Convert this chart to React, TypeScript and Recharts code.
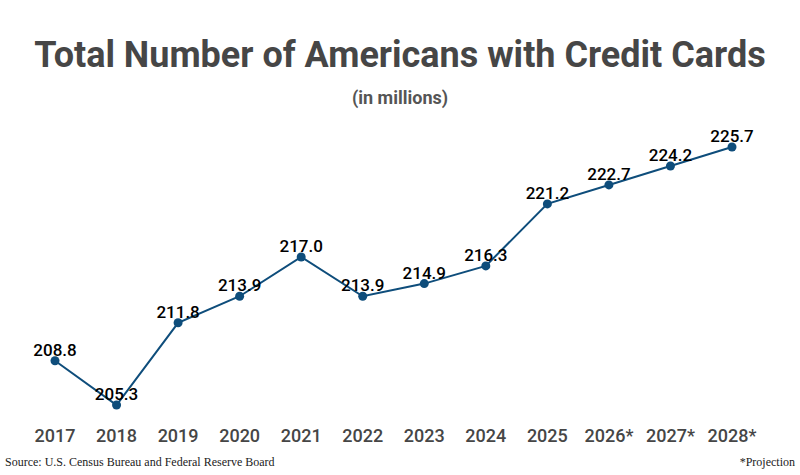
import React from 'react';
import { LineChart, Line, XAxis, YAxis, LabelList } from 'recharts';

// Categories and values (millions of Americans holding credit cards)
const years = ['2017', '2018', '2019', '2020', '2021', '2022', '2023', '2024', '2025', '2026*', '2027*', '2028*'];
const holders = [208.8, 205.3, 211.8, 213.9, 217.0, 213.9, 214.9, 216.3, 221.2, 222.7, 224.2, 225.7];

const data = years.map((year, i) => ({ year, value: holders[i] }));

const FONT = 'Roboto, "Noto Sans", sans-serif';
const LINE_COLOR = '#0e4d7b';

export default function App() {
  return (
    <div style={{ position: 'absolute', left: 0, top: 0, width: 800, height: 475, background: '#fff', fontFamily: FONT }}>
      <div
        style={{
          position: 'absolute', left: 0, top: 30, width: 800, textAlign: 'center',
          fontSize: 36, fontWeight: 700, color: '#464646', lineHeight: '50px',
        }}
      >
        Total Number of Americans with Credit Cards
      </div>
      <div
        style={{
          position: 'absolute', left: 0, top: 86, width: 800, textAlign: 'center',
          fontSize: 18, fontWeight: 700, color: '#555', lineHeight: '24px',
        }}
      >
        (in millions)
      </div>
      <div style={{ position: 'absolute', left: 0, top: 0 }}>
        <LineChart width={800} height={475} data={data} margin={{ top: 147, right: 68, bottom: 30, left: 55 }}>
          <XAxis
            dataKey="year"
            axisLine={false}
            tickLine={false}
            height={40}
            tickMargin={18}
            interval={0}
            tick={{ fill: '#464646', fontSize: 18, fontWeight: 500, fontFamily: FONT }}
          />
          <YAxis hide domain={[205.3, 225.7]} />
          <Line
            type="linear"
            dataKey="value"
            stroke={LINE_COLOR}
            strokeWidth={2}
            dot={{ r: 4.5, fill: LINE_COLOR, stroke: LINE_COLOR, strokeWidth: 0 }}
            isAnimationActive={false}
          >
            <LabelList
              dataKey="value"
              position="top"
              offset={5}
              formatter={(v: number) => v.toFixed(1)}
              style={{ fill: '#000', fontSize: 17, fontWeight: 500, fontFamily: FONT }}
            />
          </Line>
        </LineChart>
      </div>
      <div
        style={{
          position: 'absolute', left: 5, top: 454, fontFamily: '"Liberation Serif", "Times New Roman", serif',
          fontSize: 12, color: '#222', lineHeight: '16px',
        }}
      >
        Source: U.S. Census Bureau and Federal Reserve Board
      </div>
      <div
        style={{
          position: 'absolute', right: 5, top: 454, fontFamily: '"Liberation Serif", "Times New Roman", serif',
          fontSize: 12, color: '#222', lineHeight: '16px',
        }}
      >
        *Projection
      </div>
    </div>
  );
}
